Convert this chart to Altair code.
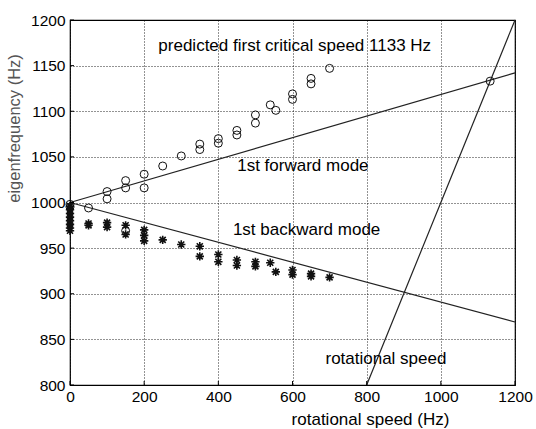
import altair as alt
import pandas as pd

# Measured eigenfrequencies: forward whirl (circles)
fwd_speed = [0, 0, 50, 100, 100, 150, 150, 150, 200, 200, 250, 300, 350, 350,
             400, 400, 450, 450, 500, 500, 540, 555, 600, 600, 650, 650, 700, 1133]
fwd_freq = [998, 995, 994, 1012, 1004, 1024, 1016, 969, 1031, 1016, 1040, 1051, 1064, 1058,
            1070, 1065, 1079, 1074, 1096, 1087, 1107, 1101, 1119, 1113, 1136, 1130, 1147, 1133]

# Measured eigenfrequencies: backward whirl (asterisks)
bwd_speed = [0, 0, 0, 0, 0, 0, 0, 0, 50, 50, 100, 100, 150, 150, 200, 200, 200, 250, 300,
             350, 350, 400, 400, 450, 450, 500, 500, 540, 555, 600, 600, 650, 650, 700]
bwd_freq = [996, 992, 988, 984, 980, 976, 972, 969, 977, 975, 978, 973, 975, 965, 970, 964, 958,
            959, 954, 952, 941, 943, 935, 937, 931, 935, 930, 934, 924, 926, 921, 922, 919, 918]

# Predicted mode lines (end points) and the rotational speed line f = n
fwd_line_x = [0, 1200]
fwd_line_y = [1000, 1142]
bwd_line_x = [0, 1200]
bwd_line_y = [1000, 869]
rot_line_x = [800, 1200]
rot_line_y = [800, 1200]

# Annotations
note_text = ["predicted first critical speed 1133 Hz", "1st forward mode",
             "1st backward mode", "rotational speed"]
note_x = [606, 628, 638, 852]
note_y = [1172, 1040, 970, 828]

x_ticks = [0, 200, 400, 600, 800, 1000, 1200]
y_ticks = [800, 850, 900, 950, 1000, 1050, 1100, 1150, 1200]

W, H = 445, 365
FONT = "Liberation Sans"

xs = alt.Scale(domain=[0, 1200], nice=False, zero=False)
ys = alt.Scale(domain=[800, 1200], nice=False, zero=False)

xax = alt.Axis(values=x_ticks, format="d", grid=True, gridDash=[1, 2], gridColor="#000",
               gridOpacity=0.85, tickSize=0, labelPadding=4, labelFontSize=15.5, labelFont=FONT,
               labelColor="#000", domain=False, labelFlush=False,
               title="rotational speed (Hz)", titleFont=FONT, titleFontSize=17,
               titleFontWeight="normal", titleColor="#000", titleX=300, titleY=39,
               titleBaseline="alphabetic")
yax = alt.Axis(values=y_ticks, format="d", grid=True, gridDash=[1, 2], gridColor="#000",
               gridOpacity=0.85, tickSize=0, labelPadding=5, labelFontSize=15.5, labelFont=FONT,
               labelColor="#000", domain=False, labelFlush=False,
               title="eigenfrequency (Hz)", titleFont=FONT, titleFontSize=16.5,
               titleFontWeight="normal", titleColor="#555", titleX=-56, titleY=108,
               titleBaseline="middle")

fwd_df = pd.DataFrame({"speed": fwd_speed, "freq": fwd_freq})
bwd_df = pd.DataFrame({"speed": bwd_speed, "freq": bwd_freq})

lines_df = pd.concat([
    pd.DataFrame({"speed": fwd_line_x, "freq": fwd_line_y, "line": "forward"}),
    pd.DataFrame({"speed": bwd_line_x, "freq": bwd_line_y, "line": "backward"}),
    pd.DataFrame({"speed": rot_line_x, "freq": rot_line_y, "line": "rotational"}),
])
notes_df = pd.DataFrame({"speed": note_x, "freq": note_y, "text": note_text})

base_grid = alt.Chart(pd.DataFrame({"speed": [0], "freq": [800]})).mark_point(opacity=0).encode(
    x=alt.X("speed:Q", scale=xs, axis=xax),
    y=alt.Y("freq:Q", scale=ys, axis=yax),
)

lines = alt.Chart(lines_df).mark_line(color="#222", strokeWidth=1.2).encode(
    x=alt.X("speed:Q", scale=xs),
    y=alt.Y("freq:Q", scale=ys),
    detail="line:N",
)

circles = alt.Chart(fwd_df).mark_point(shape="circle", filled=False, color="#111",
                                       size=64, strokeWidth=1, opacity=1).encode(
    x=alt.X("speed:Q", scale=xs),
    y=alt.Y("freq:Q", scale=ys),
)

asterisk = "M-1,0L1,0M0,-1L0,1M-0.72,-0.72L0.72,0.72M-0.72,0.72L0.72,-0.72"
stars = alt.Chart(bwd_df).mark_point(shape=asterisk, filled=False, color="#111",
                                     size=70, strokeWidth=1.6, opacity=1).encode(
    x=alt.X("speed:Q", scale=xs),
    y=alt.Y("freq:Q", scale=ys),
)

notes = alt.Chart(notes_df).mark_text(font=FONT, fontSize=17, color="#000",
                                      align="center", baseline="middle").encode(
    x=alt.X("speed:Q", scale=xs),
    y=alt.Y("freq:Q", scale=ys),
    text="text:N",
)

# Short inward tick marks on the bottom and left edges
xt = alt.Chart(pd.DataFrame({"speed": x_ticks})).mark_rule(color="#000").encode(
    x=alt.X("speed:Q", scale=xs), y=alt.value(H), y2=alt.value(H - 4))
yt = alt.Chart(pd.DataFrame({"freq": y_ticks})).mark_rule(color="#000").encode(
    y=alt.Y("freq:Q", scale=ys), x=alt.value(0), x2=alt.value(4))

chart = alt.layer(base_grid, lines, circles, stars, notes, xt, yt).properties(
    width=W, height=H,
    autosize=alt.AutoSizeParams(type="none"),
    padding={"left": 70, "top": 20, "right": 21, "bottom": 44},
    background="white",
).configure_view(stroke="#000", strokeWidth=1.2)

chart.save("out.html", embed_options={"renderer": "svg", "actions": False})
